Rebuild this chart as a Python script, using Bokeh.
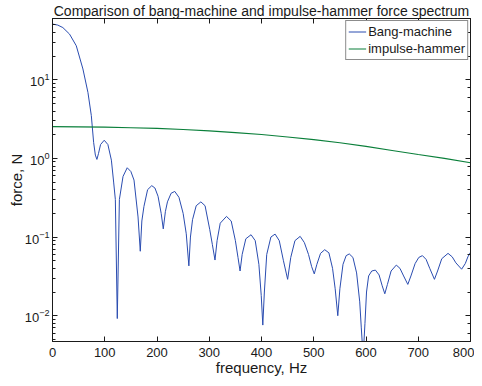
from bokeh.plotting import figure
from bokeh.models import (Range1d, LogAxis, LinearAxis, FixedTicker, Legend, LegendItem,
                          PrintfTickFormatter)
from bokeh.embed import file_html
from bokeh.resources import INLINE

# Bang-machine force spectrum (Hz, N)
bang_freq = [0, 10, 19.8, 32.6, 45.5, 58.2, 67.8, 74.3, 78.7, 82, 85, 88, 92, 99, 106, 112.7, 117, 120.3,
             124, 128, 135, 143, 150, 156, 163.7, 168, 171, 175, 182, 190, 196, 202, 208, 212, 216, 220,
             227, 234, 242, 250, 256, 261, 264, 268, 275, 284, 292, 301, 306, 311, 315, 321, 333, 342,
             350, 355, 359, 363, 370, 380, 388, 395, 399.5, 402.5, 405.5, 410, 418, 426, 434, 442, 450,
             456, 464, 474, 482, 490, 496, 501, 506, 513, 521, 529, 536, 541, 546, 550, 556, 562, 568,
             575, 582, 588, 591, 594.5, 598, 601, 605, 611, 618, 625, 631, 636, 641, 648, 658, 665, 672,
             680, 686, 694, 701, 708, 715, 722, 731, 737, 745, 757, 765, 772, 783, 790, 795, 800]
bang_force = [51, 49.5, 46, 38, 27, 13.7, 6.9, 3.5, 1.6, 1.1, 0.97, 1.15, 1.5, 1.7, 1.5, 0.95, 0.5, 0.30,
              0.0092, 0.30, 0.59, 0.76, 0.68, 0.53, 0.18, 0.066, 0.16, 0.245, 0.40, 0.45, 0.42, 0.33, 0.20,
              0.127, 0.21, 0.28, 0.36, 0.38, 0.32, 0.2, 0.11, 0.043, 0.10, 0.166, 0.25, 0.28, 0.25, 0.124,
              0.08, 0.051, 0.09, 0.15, 0.183, 0.16, 0.09, 0.055, 0.037, 0.06, 0.095, 0.107, 0.09, 0.045,
              0.018, 0.0076, 0.02, 0.06, 0.1, 0.109, 0.09, 0.05, 0.029, 0.055, 0.09, 0.102, 0.085, 0.06,
              0.042, 0.034, 0.045, 0.062, 0.069, 0.063, 0.04, 0.022, 0.01, 0.022, 0.045, 0.058, 0.061,
              0.055, 0.035, 0.015, 0.007, 0.003, 0.008, 0.02, 0.032, 0.037, 0.038, 0.033, 0.024, 0.019,
              0.025, 0.037, 0.044, 0.04, 0.032, 0.025, 0.032, 0.046, 0.055, 0.058, 0.052, 0.04, 0.029,
              0.037, 0.053, 0.062, 0.056, 0.047, 0.039, 0.046, 0.056, 0.064]

# Impulse-hammer force spectrum
hammer_freq = [0, 50, 100, 150, 200, 250, 300, 350, 400, 450, 500, 550, 600, 650, 700, 750, 800]
hammer_force = [2.53, 2.52, 2.49, 2.45, 2.40, 2.33, 2.24, 2.13, 2.01, 1.87, 1.73, 1.58, 1.42, 1.26,
                1.12, 1.0, 0.88]

x_ticks = [0, 100, 200, 300, 400, 500, 600, 700, 800]
x_label = "frequency, Hz"
y_label = "force, N"

FONT = "Liberation Sans"
AX = "#1a1a1a"

p = figure(width=470, height=378, y_axis_type="log",
           x_range=Range1d(0, 800), y_range=Range1d(0.0047, 60),
           output_backend="svg", toolbar_location=None,
           min_border_left=40, min_border_right=4, min_border_top=16, min_border_bottom=20,
           styles={"margin-left": "4px"},
           title="Comparison of bang-machine and impulse-hammer force spectrum")
p.title.align = "center"
p.title.text_font = FONT
p.title.text_font_size = "14px"
p.title.text_font_style = "normal"
p.title.text_color = AX
p.title.standoff = 0
p.title.offset = 0

p.xgrid.visible = False
p.ygrid.visible = False
p.outline_line_color = AX

r1 = p.line(bang_freq, bang_force, line_color="#2a4cb0", line_width=1)
r2 = p.line(hammer_freq, hammer_force, line_color="#0a7f3a", line_width=1.2)

xa = p.xaxis[0]
xa.ticker = FixedTicker(ticks=x_ticks)
xa.axis_label = x_label
ya = p.yaxis[0]
ya.axis_label = y_label

for ax in (xa, ya):
    ax.axis_line_color = AX
    ax.major_tick_line_color = AX
    ax.minor_tick_line_color = AX
    ax.major_tick_in = 5
    ax.major_tick_out = 0
    ax.minor_tick_in = 3
    ax.minor_tick_out = 0
    ax.major_label_text_font = FONT
    ax.major_label_text_font_size = "13px"
    ax.major_label_text_color = AX
    ax.axis_label_text_font = FONT
    ax.axis_label_text_font_size = "15px"
    ax.axis_label_text_font_style = "normal"
    ax.axis_label_text_color = AX
    ax.major_label_standoff = 3
ya.axis_label_standoff = -3
xa.minor_tick_line_color = None
xa.major_label_standoff = 6
xa.axis_label_standoff = -1

blank = PrintfTickFormatter(format=" ")
top = LinearAxis(ticker=FixedTicker(ticks=x_ticks), formatter=blank,
                 major_label_text_font_size="1px", major_label_text_color=None,
                 major_tick_in=5, major_tick_out=0, minor_tick_line_color=None,
                 axis_line_color=AX, major_tick_line_color=AX, major_label_standoff=0)
right = LogAxis(formatter=blank, major_label_text_font_size="1px", major_label_text_color=None,
                major_tick_in=5, major_tick_out=0,
                minor_tick_in=3, minor_tick_out=0, axis_line_color=AX,
                major_tick_line_color=AX, minor_tick_line_color=AX, major_label_standoff=0)
p.add_layout(top, "above")
p.add_layout(right, "right")

legend = Legend(items=[LegendItem(label="Bang-machine", renderers=[r1]),
                       LegendItem(label="impulse-hammer", renderers=[r2])],
                location="top_right")
legend.label_text_font = FONT
legend.label_text_font_size = "13px"
legend.label_text_color = AX
legend.border_line_color = AX
legend.border_line_width = 1
legend.background_fill_alpha = 1
legend.glyph_width = 18
legend.glyph_height = 17
legend.label_height = 17
legend.label_standoff = 2
legend.spacing = 0
legend.padding = 2
legend.margin = 2
p.add_layout(legend)

open("out.html", "w").write(file_html(p, INLINE))
